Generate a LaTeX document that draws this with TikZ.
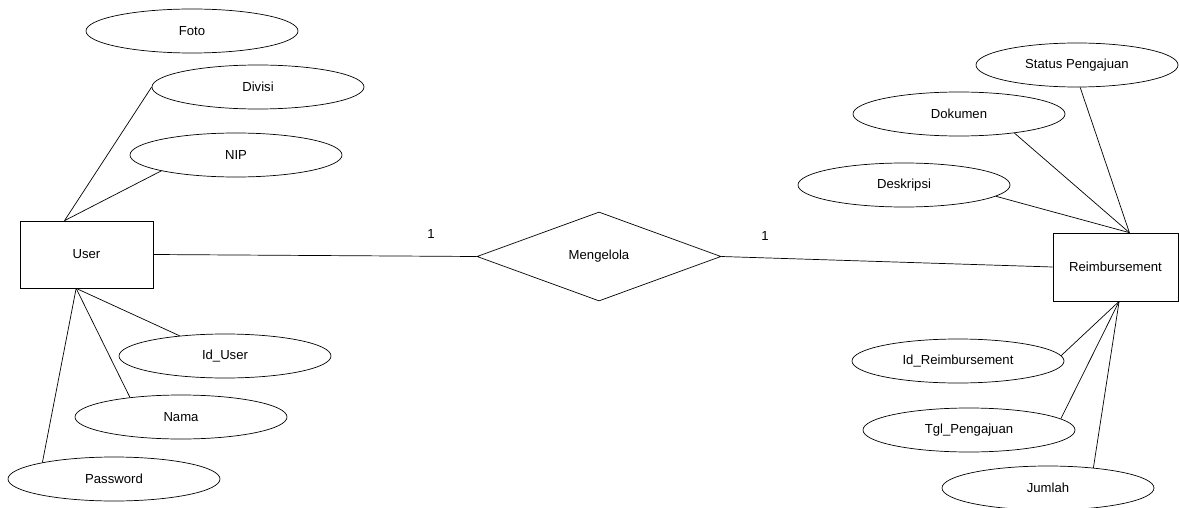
\documentclass[tikz,border=0pt]{standalone}
\usepackage{fontspec}
\setmainfont{Liberation Sans}
\usetikzlibrary{shapes.geometric}

\begin{document}
\begin{tikzpicture}[x=0.03cm, y=-0.03cm, line width=0.6pt,
    font=\fontsize{11.2}{13}\selectfont,
    entity/.style={draw, rectangle, minimum width=3.99cm, minimum height=2.01cm, inner sep=0pt},
    attr/.style={draw, ellipse, minimum width=6.36cm, minimum height=1.32cm, inner sep=0pt},
    relation/.style={draw, diamond, minimum width=7.32cm, minimum height=2.67cm, inner sep=0pt}]
    \useasboundingbox (0,0) rectangle (1179,508);

    % Entities
    \node[entity] (user) at (86.5,254.5) {User};
    \node[entity, minimum width=3.75cm, minimum height=2.04cm] (reimb) at (1115.5,267) {Reimbursement};

    % Relationship with cardinalities
    \node[relation] (kelola) at (599,256.5) {Mengelola};
    \draw (user.east) -- (kelola.west);
    \draw (kelola.east) -- (reimb.west);
    \node (card1) at (431,234) {1};
    \node (card2) at (765,236) {1};

    % Attributes of User
    \node[attr] (foto) at (192,31) {Foto};
    \node[attr] (divisi) at (258,87) {Divisi};
    \node[attr] (nip) at (236,155) {NIP};
    \node[attr] (iduser) at (225,356) {Id\_User};
    \node[attr] (nama) at (181,417) {Nama};
    \node[attr] (password) at (114,479) {Password};
    \draw (user.123) -- (divisi.west);
    \draw (user.123) -- (nip.192);
    \draw (user.253) -- (iduser.156);
    \draw (user.253) -- (nama.159);
    \draw (user.253) -- (password.167);

    % Attributes of Reimbursement
    \node[attr, minimum width=6.06cm] (status) at (1077,65) {Status Pengajuan};
    \node[attr] (dokumen) at (959,114) {Dokumen};
    \node[attr] (deskripsi) at (904,185) {Deskripsi};
    \node[attr] (idreimb) at (958,361) {Id\_Reimbursement};
    \node[attr] (tgl) at (969,430) {Tgl\_Pengajuan};
    \node[attr] (jumlah) at (1048,488) {Jumlah};
    \draw (reimb.68) -- (status.-82);
    \draw (reimb.68) -- (dokumen.-19);
    \draw (reimb.68) -- (deskripsi.-7);
    \draw (reimb.276) -- (idreimb.3);
    \draw (reimb.276) -- (tgl.7);
    \draw (reimb.276) -- (jumlah.24);
\end{tikzpicture}
\end{document}
